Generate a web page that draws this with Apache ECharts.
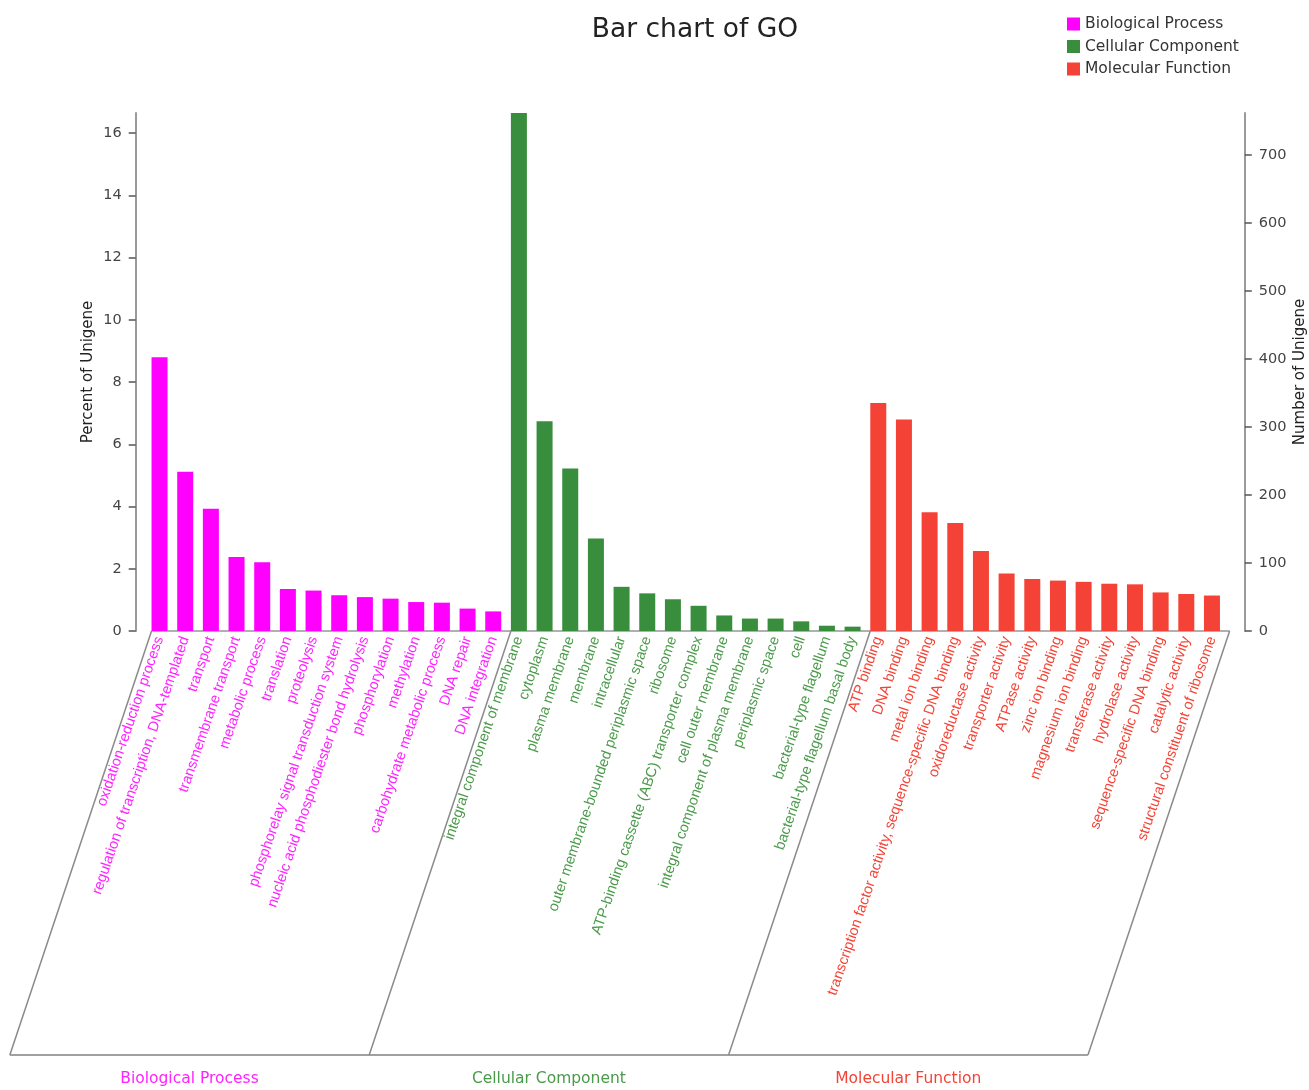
<!DOCTYPE html>
<html>
<head>
<meta charset="utf-8">
<title>Bar chart of GO</title>
<script src="https://cdn.jsdelivr.net/npm/echarts@6/dist/echarts.min.js"></script>
<style>
  html, body { margin: 0; padding: 0; background: #ffffff; }
  #chart { width: 1309px; height: 1090px; }
</style>
</head>
<body>
<div id="chart"></div>
<script>
// ---- data ----------------------------------------------------------------
const chartTitle = 'Bar chart of GO';
const groupNames = ['Biological Process', 'Cellular Component', 'Molecular Function'];
const groupColors = ['#ff00ff', '#388e3c', '#f44336'];
const groupTextColors = ['#ff22ff', '#4a9a4a', '#f44336'];

const bpTerms = [
  'oxidation-reduction process',
  'regulation of transcription, DNA-templated',
  'transport',
  'transmembrane transport',
  'metabolic process',
  'translation',
  'proteolysis',
  'phosphorelay signal transduction system',
  'nucleic acid phosphodiester bond hydrolysis',
  'phosphorylation',
  'methylation',
  'carbohydrate metabolic process',
  'DNA repair',
  'DNA integration'
];
const bpPercent = [8.80, 5.12, 3.93, 2.38, 2.21, 1.35, 1.30, 1.15, 1.09, 1.04, 0.93, 0.91, 0.72, 0.63];

const ccTerms = [
  'integral component of membrane',
  'cytoplasm',
  'plasma membrane',
  'membrane',
  'intracellular',
  'outer membrane-bounded periplasmic space',
  'ribosome',
  'ATP-binding cassette (ABC) transporter complex',
  'cell outer membrane',
  'integral component of plasma membrane',
  'periplasmic space',
  'cell',
  'bacterial-type flagellum',
  'bacterial-type flagellum basal body'
];
const ccPercent = [16.65, 6.74, 5.22, 2.97, 1.42, 1.21, 1.02, 0.81, 0.50, 0.40, 0.40, 0.31, 0.17, 0.14];

const mfTerms = [
  'ATP binding',
  'DNA binding',
  'metal ion binding',
  'transcription factor activity, sequence-specific DNA binding',
  'oxidoreductase activity',
  'transporter activity',
  'ATPase activity',
  'zinc ion binding',
  'magnesium ion binding',
  'transferase activity',
  'hydrolase activity',
  'sequence-specific DNA binding',
  'catalytic activity',
  'structural constituent of ribosome'
];
const mfPercent = [7.33, 6.80, 3.82, 3.47, 2.57, 1.85, 1.67, 1.62, 1.58, 1.52, 1.50, 1.24, 1.19, 1.14];

// total number of annotated unigenes (links the percent and count axes)
const totalUnigene = 4575;

const percentTicks = [0, 2, 4, 6, 8, 10, 12, 14, 16];
const countTicks = [0, 100, 200, 300, 400, 500, 600, 700];

// ---- derived tables -------------------------------------------------------
const groupTerms = [bpTerms, ccTerms, mfTerms];
const groupValues = [bpPercent, ccPercent, mfPercent];

const allTerms = [];
const termGroup = [];
groupTerms.forEach((list, g) => list.forEach(t => { allTerms.push(t); termGroup.push(g); }));

function seriesFor(g) {
  const out = [];
  groupTerms.forEach((list, k) => list.forEach((t, i) => out.push(k === g ? groupValues[g][i] : '-')));
  return out;
}

const percentMax = Math.max(...bpPercent, ...ccPercent, ...mfPercent);
const countMax = percentMax * totalUnigene / 100;

// ---- layout / style -------------------------------------------------------
const BAR_WIDTH = 16;
const WIDE_FONT = 'DejaVu Sans';
const LABEL_FONT = 'Liberation Sans, Arial, sans-serif';
const AXIS_GREY = '#9a9a9a';
const BRACKET_DEPTH = 424;   // vertical reach of the category frames
const BRACKET_SHIFT = 141.7; // leftward lean of the category frames

const chart = echarts.init(document.getElementById('chart'), null, { renderer: 'canvas' });

const valueAxisCommon = {
  type: 'value',
  min: 0,
  splitLine: { show: false },
  axisLine: { show: true, lineStyle: { color: AXIS_GREY, width: 2 } },
  axisTick: { show: true, length: 7, lineStyle: { color: '#555', width: 1.5 } },
  axisLabel: { fontFamily: WIDE_FONT, fontSize: 14.5, color: '#444' },
  nameLocation: 'middle',
  nameRotate: 90,
  nameMoveOverlap: false,
  nameTextStyle: { fontFamily: WIDE_FONT, fontSize: 15, color: '#222' }
};

const option = {
  animation: false,
  backgroundColor: '#ffffff',
  title: {
    text: chartTitle,
    left: 690,
    top: 12,
    textAlign: 'center',
    textStyle: { fontFamily: WIDE_FONT, fontSize: 26.5, fontWeight: 'normal', color: '#222' }
  },
  legend: {
    data: groupNames,
    orient: 'vertical',
    left: 1062,
    top: 11,
    icon: 'rect',
    itemWidth: 13,
    itemHeight: 13,
    itemGap: 6.5,
    textStyle: { fontFamily: WIDE_FONT, fontSize: 15.5, color: '#333', lineHeight: 16 }
  },
  grid: {
    left: 146.7, right: 84.2, top: 113, bottom: 459,
    containLabel: false,
    outerBoundsMode: 'none'
  },
  xAxis: {
    type: 'category',
    data: allTerms,
    axisLine: { show: false },
    axisTick: { show: false },
    axisLabel: {
      interval: 0,
      rotate: 71,
      margin: 6,
      fontFamily: LABEL_FONT,
      fontSize: 14.6,
      color: (value, index) => groupTextColors[termGroup[index]]
    }
  },
  yAxis: [
    Object.assign({}, valueAxisCommon, {
      position: 'left',
      max: percentMax,
      offset: 11,
      name: 'Percent of Unigene',
      nameGap: 40,
      axisTick: Object.assign({}, valueAxisCommon.axisTick, { customValues: percentTicks }),
      axisLabel: Object.assign({}, valueAxisCommon.axisLabel, { customValues: percentTicks, margin: 14 })
    }),
    Object.assign({}, valueAxisCommon, {
      position: 'right',
      max: countMax,
      offset: 20,
      name: 'Number of Unigene',
      nameGap: 48,
      axisTick: Object.assign({}, valueAxisCommon.axisTick, { customValues: countTicks }),
      axisLabel: Object.assign({}, valueAxisCommon.axisLabel, { customValues: countTicks, margin: 14 })
    })
  ],
  series: groupNames.map((name, g) => ({
    name: name,
    type: 'bar',
    xAxisIndex: 0,
    yAxisIndex: 0,
    barWidth: BAR_WIDTH,
    barGap: '-100%',
    data: seriesFor(g),
    itemStyle: { color: groupColors[g] },
    z: 3
  }))
};

chart.setOption(option);

// ---- category frames under the axis --------------------------------------
function drawFrames() {
  const p0 = chart.convertToPixel({ gridIndex: 0 }, [0, 0]);
  const p1 = chart.convertToPixel({ gridIndex: 0 }, [1, 0]);
  const step = p1[0] - p0[0];
  const yTop = p0[1];
  const yBottom = yTop + BRACKET_DEPTH;

  const bounds = [];
  let start = 0;
  groupTerms.forEach(list => {
    const left = chart.convertToPixel({ gridIndex: 0 }, [start, 0])[0] - BAR_WIDTH / 2;
    bounds.push(left);
    start += list.length;
  });
  const lastCenter = chart.convertToPixel({ gridIndex: 0 }, [allTerms.length - 1, 0])[0];
  bounds.push(lastCenter - BAR_WIDTH / 2 + step);

  const elements = [];
  // top edge doubles as the category axis line
  elements.push({
    type: 'line', z: 1,
    shape: { x1: bounds[0], y1: yTop, x2: bounds[bounds.length - 1], y2: yTop },
    style: { stroke: '#b0b0b0', lineWidth: 2 }
  });
  // bottom edge
  elements.push({
    type: 'line', z: 1,
    shape: { x1: bounds[0] - BRACKET_SHIFT, y1: yBottom, x2: bounds[bounds.length - 1] - BRACKET_SHIFT, y2: yBottom },
    style: { stroke: '#a0a0a0', lineWidth: 2 }
  });
  // slanted separators
  bounds.forEach(b => {
    elements.push({
      type: 'line', z: 1,
      shape: { x1: b, y1: yTop, x2: b - BRACKET_SHIFT, y2: yBottom },
      style: { stroke: '#8a8a8a', lineWidth: 1.5 }
    });
  });
  // group captions
  groupNames.forEach((name, g) => {
    const cx = (bounds[g] + bounds[g + 1]) / 2 - BRACKET_SHIFT;
    elements.push({
      type: 'text', z: 1,
      x: cx, y: yBottom + 24,
      style: {
        text: name,
        fill: groupTextColors[g],
        font: '15.5px "DejaVu Sans"',
        textAlign: 'center',
        textVerticalAlign: 'middle'
      }
    });
  });

  chart.setOption({ graphic: elements });
}

drawFrames();
</script>
</body>
</html>
